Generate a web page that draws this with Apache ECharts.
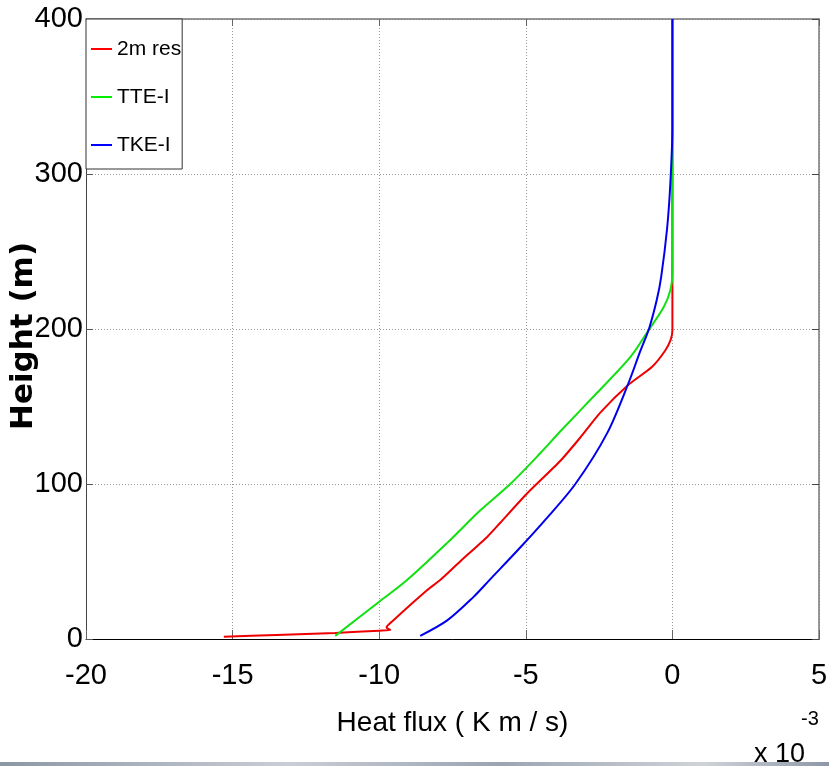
<!DOCTYPE html>
<html>
<head>
<meta charset="utf-8">
<script src="https://cdn.jsdelivr.net/npm/echarts@6/dist/echarts.min.js"></script>
<style>
html,body{margin:0;padding:0;background:#fff;}
#chart{width:829px;height:766px;}
</style>
</head>
<body>
<div id="chart"></div>
<script>
var seriesNames = ['2m res', 'TTE-I', 'TKE-I'];
var xTicks = { min: -20, max: 5, interval: 5 };
var yTicks = { min: 0, max: 400, interval: 100 };

// Heat flux in units of 1e-3 K m/s, heights in m
var redFlux   = [-15.3, -13.5, -11.5, -10.0, -9.62, -9.75, -9.55, -8.36, -7.92, -7.24, -6.31, -5.87, -4.95, -3.82, -3.14, -2.46, -1.5, -0.7, -0.25, -0.06, 0, 0, 0];
var redHeight = [1.5, 2.6, 3.9, 5.4, 5.8, 7.5, 11.5, 31.6, 38, 50, 66, 75, 94, 115, 130, 146, 164, 175.5, 186, 193, 199, 230, 400];

var greenFlux   = [-11.5, -10.0, -9.05, -7.68, -6.55, -5.53, -4.5, -3.82, -2.56, -1.43, -0.82, -0.3, -0.07, 0, 0];
var greenHeight = [2, 24, 38, 62, 83, 100, 120, 134, 159, 182, 199, 214, 225, 236, 400];

var blueFlux   = [-8.6, -7.68, -6.79, -6.24, -5.19, -4.33, -3.31, -2.22, -1.5, -1.09, -0.8, -0.53, -0.38, -0.18, -0.07, 0, 0];
var blueHeight = [2, 12, 27, 38, 59, 77, 100, 133, 165, 186, 200, 219, 234, 265, 294, 330, 400];

function pairs(xs, ys) { return xs.map(function (v, i) { return [v, ys[i]]; }); }

var sans = '"Liberation Sans", Arial, Helvetica, sans-serif';
var chart = echarts.init(document.getElementById('chart'), null, { renderer: 'canvas' });

var option = {
  backgroundColor: '#fff',
  animation: false,
  grid: { left: 86, right: 10, top: 19, bottom: 127, containLabel: false, outerBoundsMode: 'none' },
  legend: {
    orient: 'vertical', left: 86, top: 19,
    padding: [17, 1, 11, 5], itemGap: 22,
    itemWidth: 21, itemHeight: 2, icon: 'rect',
    backgroundColor: '#fff', borderColor: '#333', borderWidth: 1, borderRadius: 0,
    textStyle: { fontFamily: sans, fontSize: 21, color: '#000', lineHeight: 26 },
    data: seriesNames
  },
  xAxis: [{
    type: 'value', min: xTicks.min, max: xTicks.max, interval: xTicks.interval,
    name: 'Heat flux ( K m / s)', nameLocation: 'middle', nameGap: 70, nameMoveOverlap: false,
    nameTextStyle: { fontFamily: sans, fontSize: 28, color: '#000' },
    axisLine: { show: true, onZero: false, lineStyle: { color: '#000', width: 1 } },
    axisTick: { show: true, inside: true, length: 9, lineStyle: { color: '#666' } },
    axisLabel: { fontFamily: sans, fontSize: 29, color: '#000', margin: 22 },
    splitLine: { show: true, lineStyle: { color: '#999', type: [1, 2], width: 1 } }
  }, {
    type: 'value', position: 'top', min: xTicks.min, max: xTicks.max, interval: xTicks.interval,
    axisLine: { show: true, onZero: false, lineStyle: { color: '#777', width: 1.5 } },
    axisTick: { show: true, inside: true, length: 7, lineStyle: { color: '#666' } },
    axisLabel: { show: false }, splitLine: { show: false }
  }],
  yAxis: [{
    type: 'value', min: yTicks.min, max: yTicks.max, interval: yTicks.interval,
    name: 'Height (m)', nameLocation: 'middle', nameGap: 47, nameRotate: 90, nameMoveOverlap: false,
    nameTextStyle: { fontFamily: '"DejaVu Sans", sans-serif', fontWeight: 'bold', fontSize: 31, color: '#000', padding: [0, 14, 0, 0] },
    axisLine: { show: true, onZero: false, lineStyle: { color: '#444', width: 1 } },
    axisTick: { show: true, inside: true, length: 7, lineStyle: { color: '#555' } },
    axisLabel: { fontFamily: sans, fontSize: 29, color: '#000', margin: 3 },
    splitLine: { show: true, lineStyle: { color: '#999', type: [1, 2], width: 1 } }
  }, {
    type: 'value', position: 'right', min: yTicks.min, max: yTicks.max, interval: yTicks.interval,
    axisLine: { show: true, onZero: false, lineStyle: { color: '#777', width: 1.5 } },
    axisTick: { show: true, inside: true, length: 7, lineStyle: { color: '#444' } },
    axisLabel: { show: false }, splitLine: { show: false }
  }],
  series: [
    { name: seriesNames[0], type: 'line', data: pairs(redFlux, redHeight), symbol: 'none', smooth: 0.2,
      color: '#ff0000', lineStyle: { color: '#ee0000', width: 2 }, z: 3 },
    { name: seriesNames[1], type: 'line', data: pairs(greenFlux, greenHeight), symbol: 'none', smooth: 0.3,
      color: '#00ee00', lineStyle: { color: '#11e011', width: 2 }, z: 4 },
    { name: seriesNames[2], type: 'line', data: pairs(blueFlux, blueHeight), symbol: 'none', smooth: 0.3,
      color: '#0000ff', lineStyle: { color: '#0000ee', width: 2 }, z: 5 }
  ],
  graphic: [
    { type: 'text', left: 754, top: 741, z: 10,
      style: { text: 'x 10', fontFamily: sans, fontSize: 27, fill: '#000' } },
    { type: 'text', left: 801, top: 709, z: 10,
      style: { text: '-3', fontFamily: sans, fontSize: 20, fill: '#000' } },
    { type: 'rect', left: 0, top: 762, z: 20,
      shape: { width: 829, height: 4 },
      style: { fill: new echarts.graphic.LinearGradient(0, 0, 1, 0, [
        { offset: 0, color: '#8c97a6' }, { offset: 0.35, color: '#c9ced6' },
        { offset: 0.6, color: '#9aa4b2' }, { offset: 0.85, color: '#cfd3d9' }, { offset: 1, color: '#8c97a6' }
      ]) } }
  ]
};
chart.setOption(option);
</script>
</body>
</html>
